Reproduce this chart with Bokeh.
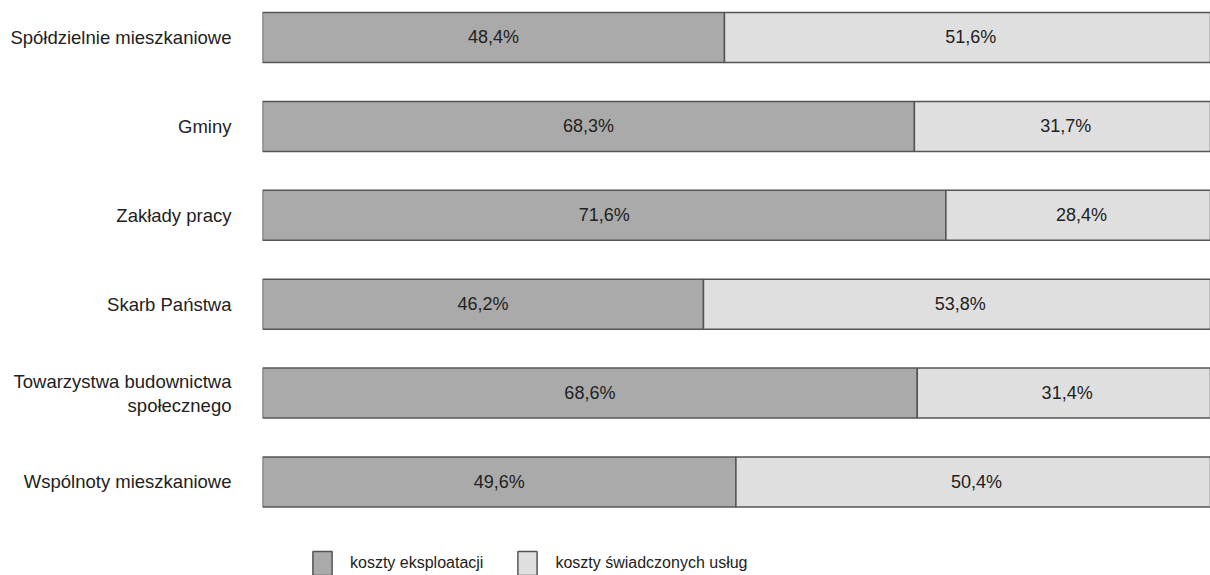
from bokeh.plotting import figure
from bokeh.models import Range1d, FixedTicker, Legend, LegendItem, ColumnDataSource
from bokeh.core.properties import value
from bokeh.embed import file_html
from bokeh.resources import INLINE

categories = ["Spółdzielnie mieszkaniowe", "Gminy", "Zakłady pracy", "Skarb Państwa",
              "Towarzystwa budownictwa\nspołecznego", "Wspólnoty mieszkaniowe"]
eksploatacja = [48.4, 68.3, 71.6, 46.2, 68.6, 49.6]
uslugi = [51.6, 31.7, 28.4, 53.8, 31.4, 50.4]
series_names = ["koszty eksploatacji", "koszty świadczonych usług"]

FONT = "'Liberation Sans', Arial, sans-serif"
DARK = "#aaaaaa"
LIGHT = "#dfdfdf"
EDGE = "#555555"

rows = list(range(len(categories)))
src = ColumnDataSource(dict(
    y=rows,
    a_end=eksploatacja,
    b_end=[e + u for e, u in zip(eksploatacja, uslugi)],
    a_mid=[e / 2 for e in eksploatacja],
    b_mid=[e + u / 2 for e, u in zip(eksploatacja, uslugi)],
    a_lab=[f"{v:.1f}%".replace(".", ",") for v in eksploatacja],
    b_lab=[f"{v:.1f}%".replace(".", ",") for v in uslugi],
))

p = figure(width=1210, height=575, output_backend="svg", toolbar_location=None,
           x_range=Range1d(0, 99.32), y_range=Range1d(6.052, -0.416),
           min_border_left=262, min_border_right=0, min_border_top=0, min_border_bottom=0)
p.outline_line_color = None
p.grid.visible = False
p.xaxis.visible = False
p.background_fill_color = "white"
p.border_fill_color = "white"

r1 = p.hbar(y="y", left=0, right="a_end", height=0.5625, source=src,
            fill_color=DARK, line_color=EDGE, line_width=1.5)
r2 = p.hbar(y="y", left="a_end", right="b_end", height=0.5625, source=src,
            fill_color=LIGHT, line_color=EDGE, line_width=1.5)

p.text(x="a_mid", y="y", text="a_lab", source=src, text_align="center",
       text_baseline="middle", text_font=value(FONT), text_font_size="18px", text_color="#222222")
p.text(x="b_mid", y="y", text="b_lab", source=src, text_align="center",
       text_baseline="middle", text_font=value(FONT), text_font_size="18px", text_color="#222222")

ax = p.yaxis[0]
ax.ticker = FixedTicker(ticks=rows)
ax.major_label_overrides = {i: c for i, c in enumerate(categories)}
ax.axis_line_color = None
ax.major_tick_line_color = None
ax.minor_tick_line_color = None
ax.major_tick_out = 0
ax.major_tick_in = 0
ax.major_label_standoff = 31
ax.major_label_text_font = FONT
ax.major_label_text_font_size = "18.5px"
ax.major_label_text_color = "#222222"
ax.major_label_text_line_height = 1.15

legend = Legend(items=[LegendItem(label=series_names[0], renderers=[r1]),
                       LegendItem(label=series_names[1], renderers=[r2])],
                location=(48, -3), orientation="horizontal",
                glyph_width=24, glyph_height=30, label_standoff=16, spacing=32,
                padding=0, margin=0, border_line_color=None, background_fill_alpha=0,
                label_text_font=FONT, label_text_font_size="16px",
                label_text_color="#222222", label_text_baseline="middle", label_height=30)
p.add_layout(legend)

open("out.html", "w").write(file_html(p, INLINE))
